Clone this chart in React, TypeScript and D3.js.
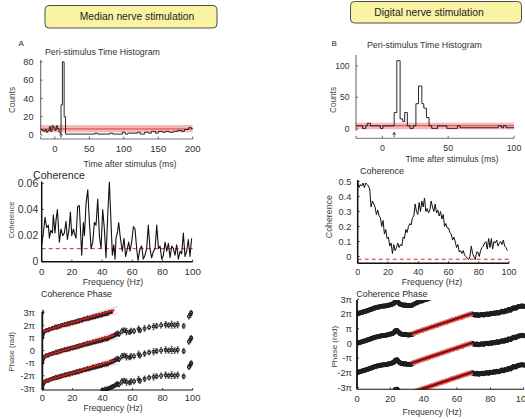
import * as d3 from "d3";
import React from "react";

// ---------- data ----------

// Peri-stimulus time histograms: left edge of each step (ms) and its count
const psthAEdges = [-20, -18, -16, -14, -12, -10, -8, -6, -4, -2, 0, 2, 4, 6, 9, 11, 13.5, 15.5, 58, 62, 80, 84, 98, 102, 106, 120, 124, 130, 136, 140, 146, 150, 156, 160, 166, 172, 178, 184, 188, 194, 198];
const psthACounts = [6, 5, 4, 6, 3, 5, 9, 4, 10, 8, 5, 10, 7, 3, 33, 80, 20, 1, 2, 1, 2, 1, 3, 1, 2, 3, 1, 3, 2, 4, 2, 4, 3, 4, 3, 4, 5, 4, 6, 8, 7];
const psthAEnd = 200;
const psthAMean = 6.6;
const psthABand = [2.9, 10.9];

const psthBEdges = [-20, -15, -12.5, -11.5, -9, -1.5, 0.5, 9, 11, 13.5, 15.5, 17, 19, 21, 23.5, 25.5, 27.5, 30, 31.5, 33.5, 35.5, 37.5, 42, 49, 57, 59, 88, 90.5, 92, 94];
const psthBCounts = [5, 1, 5, 9, 5, 1, 5, 26, 108, 16, 12, 26, 5, 1, 5, 40, 68, 40, 33, 18, 5, 1, 5, 1, 5, 2, 5, 2, 5, 2];
const psthBEnd = 100;
const psthBMean = 5.2;
const psthBBand = [-0.5, 10];

const stimMarkA = 9;
const stimMarkB = 9;

// Coherence, median nerve
const cohAFreq = [0, 1.1, 2.2, 3.3, 4.4, 5.1, 6.0, 7.1, 7.7, 8.8, 9.5, 10.4, 11.7, 12.8, 13.9, 15.0, 16.1, 17.0, 18.1, 19.0, 19.9, 21.0, 21.6, 22.7, 23.8, 24.9, 26.5, 27.6, 28.3, 29.4, 30.5, 31.6, 32.7, 33.8, 34.9, 36.0, 37.1, 38.2, 39.3, 40.4, 41.5, 42.6, 43.7, 44.8, 45.9, 46.8, 47.7, 48.6, 49.2, 50.1, 51.0, 51.9, 52.5, 53.4, 54.5, 55.6, 56.7, 57.6, 58.5, 59.6, 60.7, 61.8, 62.9, 63.8, 65.1, 66.2, 67.3, 68.4, 69.5, 70.6, 71.7, 72.8, 74.0, 75.1, 76.2, 77.3, 78.4, 79.5, 80.6, 81.7, 82.8, 83.9, 85.0, 86.1, 87.2, 88.3, 89.4, 90.5, 91.6, 92.7, 93.8, 94.9, 96.0, 97.1, 98.2, 99.3];
const cohAVal = [0.013, 0.022, 0.034, 0.026, 0.028, 0.018, 0.024, 0.022, 0.036, 0.022, 0.032, 0.040, 0.015, 0.025, 0.020, 0.022, 0.031, 0.017, 0.025, 0.038, 0.020, 0.025, 0.022, 0.018, 0.042, 0.043, 0.005, 0.030, 0.020, 0.045, 0.055, 0.030, 0.010, 0.015, 0.030, 0.028, 0.048, 0.020, 0.010, 0.040, 0.025, 0.003, 0.035, 0.061, 0.030, 0.005, 0.013, 0.002, 0.018, 0.022, 0.030, 0.020, 0.015, 0.008, 0.018, 0.004, 0.010, 0.015, 0.008, 0.015, 0.027, 0.025, 0.010, 0.001, 0.010, 0.012, 0.002, 0.005, 0.010, 0.028, 0.010, 0.003, 0.008, 0.010, 0.028, 0.010, 0.012, 0.002, 0.005, 0.015, 0.008, 0.014, 0.003, 0.012, 0.010, 0.005, 0.013, 0.002, 0.008, 0.006, 0.022, 0.004, 0.008, 0.017, 0.004, 0.018];
const cohAThreshold = 0.01;

// Coherence, digital nerve (0.883 Hz resolution)
const cohBStep = 0.883;
const cohBVal = [0.50, 0.46, 0.48, 0.47, 0.49, 0.46, 0.49, 0.48, 0.47, 0.45, 0.33, 0.37, 0.35, 0.33, 0.28, 0.31, 0.27, 0.26, 0.20, 0.24, 0.15, 0.18, 0.12, 0.13, 0.07, 0.09, 0.02, 0.08, 0.04, 0.06, 0.09, 0.06, 0.08, 0.07, 0.13, 0.12, 0.18, 0.16, 0.20, 0.22, 0.21, 0.26, 0.27, 0.35, 0.30, 0.28, 0.36, 0.30, 0.37, 0.33, 0.39, 0.30, 0.32, 0.29, 0.31, 0.37, 0.33, 0.30, 0.35, 0.29, 0.31, 0.27, 0.30, 0.25, 0.28, 0.20, 0.22, 0.19, 0.19, 0.16, 0.15, 0.11, 0.13, 0.10, 0.06, 0.08, 0.03, 0.04, 0.02, 0.04, 0.01, 0.00, -0.01, -0.02, 0.00, 0.07, 0.02, 0.00, -0.02, 0.03, 0.03, 0.00, 0.04, 0.06, 0.07, 0.09, 0.10, 0.05, 0.12, 0.06, 0.12, 0.05, 0.10, 0.09, 0.11, 0.07, 0.09, 0.10, 0.08, 0.11, 0.07, 0.06, 0.04];
const cohBThreshold = -0.018;

// Coherence phase, median nerve (phase in units of pi, error half-width in pi)
const phAFreq = [0, 0.5, 1, 2, 3, 4, 5, 6, 7, 8, 9, 10, 11, 12, 13, 14, 15, 16, 17, 18, 19, 20, 21, 22, 23, 24, 25, 26, 27, 28, 29, 30, 31, 32, 33, 34, 35, 36, 37, 38, 39, 40, 41, 42, 43, 44, 45, 46, 47, 48, 49, 50, 51, 53, 54.5, 56, 58, 59, 61, 64, 65, 68, 71, 74, 76, 79, 82, 84, 86, 88, 90, 94, 97.5, 98.5, 99];
const phAPhase = [-0.95, -0.7, -0.55, -0.45, -0.38, -0.4, -0.3, -0.28, -0.22, -0.2, -0.12, -0.18, -0.05, -0.08, 0.02, 0.0, 0.08, 0.05, 0.15, 0.12, 0.22, 0.18, 0.28, 0.25, 0.35, 0.3, 0.42, 0.38, 0.45, 0.5, 0.48, 0.58, 0.52, 0.62, 0.6, 0.7, 0.65, 0.75, 0.72, 0.82, 0.78, 0.88, 0.85, 0.95, 0.9, 1.0, 1.05, 1.1, 1.15, 1.2, 1.3, 1.35, 1.3, 1.55, 1.6, 1.5, 1.45, 1.55, 1.55, 1.7, 1.6, 1.75, 1.85, 1.9, 1.95, 2.0, 2.05, 2.0, 2.05, 2.0, 2.05, 1.95, 2.7, 2.85, 3.0];
const phAErr = [0.2, 0.15, 0.12, 0.1, 0.12, 0.1, 0.12, 0.1, 0.14, 0.1, 0.15, 0.12, 0.1, 0.14, 0.12, 0.1, 0.15, 0.12, 0.1, 0.16, 0.12, 0.14, 0.1, 0.15, 0.12, 0.16, 0.1, 0.14, 0.12, 0.15, 0.1, 0.16, 0.12, 0.14, 0.1, 0.15, 0.12, 0.16, 0.1, 0.14, 0.12, 0.15, 0.1, 0.16, 0.12, 0.14, 0.12, 0.16, 0.15, 0.14, 0.18, 0.2, 0.18, 0.22, 0.2, 0.25, 0.18, 0.22, 0.2, 0.25, 0.2, 0.22, 0.18, 0.25, 0.2, 0.22, 0.25, 0.2, 0.28, 0.22, 0.25, 0.2, 0.2, 0.22, 0.18];
const phAFitFreq = [0, 48];
const phAFitPhase = [-0.5, 1.23];
const phACiFreq = [0, 50];
const phACiHigh = [-0.37, 1.48];
const phACiLow = [-0.62, 0.95];
const phAFitOffsets = [2, 0, -2];

// Coherence phase, digital nerve (phase in units of pi)
const phBFreq = [0, 1, 2, 3, 4, 5, 6, 7, 8, 9, 10, 11, 12, 13, 14, 15, 16, 17, 18, 19, 20, 21, 22, 23, 24, 25, 26, 27, 28, 29, 30, 31, 32, 33, 36, 39, 42, 45, 48, 51, 54, 57, 60, 63, 66, 69, 70, 71, 72, 73, 74, 75, 76, 77, 78, 79, 80, 81, 82, 83, 84, 85, 86, 87, 88, 89, 90, 91, 92, 93, 94, 95, 96, 97, 98, 99, 100];
const phBPhase = [0, 0.04, 0.08, 0.11, 0.15, 0.18, 0.22, 0.26, 0.3, 0.34, 0.38, 0.42, 0.45, 0.47, 0.5, 0.52, 0.54, 0.55, 0.57, 0.6, 0.63, 0.66, 0.72, 0.85, 0.88, 0.75, 0.66, 0.62, 0.6, 0.61, 0.58, 0.57, 0.58, 0.6, 0.77, 0.89, 1.0, 1.12, 1.23, 1.35, 1.46, 1.58, 1.69, 1.8, 1.92, 2.0, 1.95, 1.92, 1.96, 1.9, 1.94, 1.97, 1.93, 1.98, 2.0, 1.97, 2.03, 2.01, 2.06, 2.04, 2.1, 2.07, 2.12, 2.18, 2.14, 2.22, 2.2, 2.3, 2.26, 2.35, 2.42, 2.38, 2.46, 2.5, 2.52, 2.55, 2.52];
const phBFitFreq = [33, 69];
const phBFitPhase = [0.66, 2.03];
const phBFitOffsets = [0, -2, -4];

const wrapOffsets = [-4, -2, 0, 2, 4];
const phaseTicks = [-3, -2, -1, 0, 1, 2, 3];

// ---------- drawing ----------

const FONT = "'Liberation Sans', Arial, Helvetica, sans-serif";
const INK = "#2a2a2a";

type Lin = d3.ScaleLinear<number, number>;

const piLabel = (k: number) =>
  k === 0 ? "0" : k === 1 ? "\u03c0" : k === -1 ? "-\u03c0" : `${k}\u03c0`;

function stairs(edges: number[], counts: number[], end: number, x: Lin, y: Lin) {
  let d = "";
  edges.forEach((e, i) => {
    const next = i + 1 < edges.length ? edges[i + 1] : end;
    d += (i === 0 ? `M${x(e)},${y(counts[i])}` : `V${y(counts[i])}`) + `H${x(next)}`;
  });
  return d;
}

function TitleBox({ x, y, w, h, tx, label }: any) {
  return (
    <g>
      <rect x={x} y={y} width={w} height={h} rx={4} fill="#fbf3a4" stroke="#3a3a3a" strokeWidth={0.9} />
      <text x={tx} y={y + h / 2} dy="0.36em" textAnchor="middle" fontSize={10.3} fill="#222">
        {label}
      </text>
    </g>
  );
}

function YLabel({ x, y, size, children }: any) {
  return (
    <text transform={`translate(${x},${y}) rotate(-90)`} dy="0.35em" textAnchor="middle" fontSize={size} fill="#444">
      {children}
    </text>
  );
}

function Psth({ c }: any) {
  const x = d3.scaleLinear().domain(c.xDomain).range(c.xRange);
  const y = d3.scaleLinear().domain(c.yDomain).range(c.yRange);
  const [x0, x1] = c.xRange;
  const ax = c.xAxisY;
  const mx = x(c.stim);
  return (
    <g>
      <text x={c.letter[0]} y={c.letter[1]} dy="0.35em" fontSize={8} fill={INK}>{c.letterText}</text>
      <text x={c.title[0]} y={c.title[1]} dy="0.35em" fontSize={8.8} fill="#333">Peri-stimulus Time Histogram</text>
      <rect x={x0} y={y(c.band[1])} width={x1 - x0} height={y(c.band[0]) - y(c.band[1])} fill="#f6b9b9" />
      <line x1={x0} x2={x1} y1={y(c.mean)} y2={y(c.mean)} stroke="#e23a3c" strokeWidth={1} />
      <path d={stairs(c.edges, c.counts, c.end, x, y)} fill="none" stroke="#111" strokeWidth={0.9} />
      <line x1={x0} x2={x0} y1={c.yRange[0]} y2={c.yRange[1]} stroke="#333" strokeWidth={0.8} />
      {c.yTicks.map((t: number) => (
        <g key={t}>
          <line x1={x0} x2={x0 + 2} y1={y(t)} y2={y(t)} stroke="#333" strokeWidth={0.7} />
          <text x={c.yTickRight} y={y(t)} dy="0.35em" textAnchor="end" fontSize={c.yTickSize} fill="#333">{t}</text>
        </g>
      ))}
      <line x1={x0} x2={x1} y1={ax} y2={ax} stroke="#555" strokeWidth={0.8} />
      {[c.xDomain[0], ...c.xTicks].map((t: number) => (
        <line key={t} x1={x(t)} x2={x(t)} y1={ax} y2={ax - 2.5} stroke="#444" strokeWidth={0.8} />
      ))}
      {c.xTicks.map((t: number) => (
        <text key={t} x={x(t)} y={c.xTickY} dy="0.35em" textAnchor="middle" fontSize={c.xTickSize} fill="#333">{t}</text>
      ))}
      <path d={`M${mx},${ax - 1}V${ax - 5.5}M${mx - 1.3},${ax - 3.5}L${mx},${ax - 6}L${mx + 1.3},${ax - 3.5}`} fill="none" stroke="#222" strokeWidth={0.8} />
      <YLabel x={c.yLabel[0]} y={c.yLabel[1]} size={8.2}>Counts</YLabel>
      <text x={c.xLabel[0]} y={c.xLabel[1]} dy="0.35em" textAnchor="middle" fontSize={8.7} fill="#333">Time after stimulus (ms)</text>
    </g>
  );
}

function Coherence({ c }: any) {
  const x = d3.scaleLinear().domain([0, 100]).range(c.xRange);
  const y = d3.scaleLinear().domain(c.yDomain).range(c.yRange);
  const [x0, x1] = c.xRange;
  const yb = c.yRange[0];
  const pts = c.freq.map((f: number, i: number) => [f, c.val[i]] as [number, number]);
  const line = d3.line<[number, number]>().x((d) => x(d[0])).y((d) => y(d[1]));
  return (
    <g>
      <text x={c.title[0]} y={c.title[1]} dy="0.35em" fontSize={c.titleSize} fill={INK}>Coherence</text>
      <line x1={x0} x2={x1} y1={y(c.threshold)} y2={y(c.threshold)} stroke="#e8262c" strokeWidth={1} strokeDasharray="4,3" />
      <path d={line(pts) || ""} fill="none" stroke="#111" strokeWidth={c.lineWidth} strokeLinejoin="round" />
      <line x1={x0} x2={x0} y1={yb} y2={c.yRange[1]} stroke="#111" strokeWidth={1.5} />
      <line x1={x0} x2={x1} y1={yb} y2={yb} stroke="#111" strokeWidth={1.4} />
      {c.yTicks.map((t: number) => (
        <g key={t}>
          <line x1={x0} x2={x0 + 2} y1={y(t)} y2={y(t)} stroke="#111" strokeWidth={0.8} />
          <text x={c.yTickRight} y={y(t)} dy="0.35em" textAnchor="end" fontSize={c.yTickSize} fill="#333">
            {t === 0 ? "0" : d3.format(c.fmt)(t)}
          </text>
        </g>
      ))}
      {[0, 20, 40, 60, 80, 100].map((t) => (
        <g key={t}>
          <line x1={x(t)} x2={x(t)} y1={yb} y2={yb - 2} stroke="#111" strokeWidth={0.8} />
          <text x={x(t)} y={c.xTickY} dy="0.35em" textAnchor="middle" fontSize={c.xTickSize} fill="#333">{t}</text>
        </g>
      ))}
      <YLabel x={c.yLabel[0]} y={c.yLabel[1]} size={c.yLabelSize}>Coherence</YLabel>
      <text x={c.xLabel[0]} y={c.xLabel[1]} dy="0.35em" textAnchor="middle" fontSize={8.8} fill="#333">Frequency (Hz)</text>
    </g>
  );
}

function PhaseAxes({ c, x, y }: any) {
  const [x0, x1] = c.xRange;
  const yb = c.yRange[0];
  return (
    <g>
      <line x1={x0} x2={x0} y1={yb} y2={c.yRange[1]} stroke="#111" strokeWidth={1.8} />
      <line x1={x0} x2={x1} y1={yb} y2={yb} stroke="#111" strokeWidth={1.1} />
      {phaseTicks.map((k) => (
        <g key={k}>
          <line x1={x0} x2={x0 + 2} y1={y(k)} y2={y(k)} stroke="#111" strokeWidth={0.8} />
          <text x={c.yTickRight} y={y(k)} dy="0.35em" textAnchor="end" fontSize={9.3} fill="#333">{piLabel(k)}</text>
        </g>
      ))}
      {[0, 20, 40, 60, 80, 100].map((t) => (
        <g key={t}>
          <line x1={x(t)} x2={x(t)} y1={yb} y2={yb - 2} stroke="#111" strokeWidth={0.8} />
          <text x={x(t)} y={c.xTickY} dy="0.35em" textAnchor="middle" fontSize={9.4} fill="#333">{t}</text>
        </g>
      ))}
      <text x={c.title[0]} y={c.title[1]} dy="0.35em" fontSize={8.9} fill={INK}>Coherence Phase</text>
      <YLabel x={c.yLabel[0]} y={c.yLabel[1]} size={c.yLabelSize}>Phase (rad)</YLabel>
      <text x={c.xLabel[0]} y={c.xLabel[1]} dy="0.35em" textAnchor="middle" fontSize={8.6} fill="#333">Frequency (Hz)</text>
    </g>
  );
}

function PhaseA({ c }: any) {
  const x = d3.scaleLinear().domain([0, 100]).range(c.xRange);
  const y = d3.scaleLinear().domain(c.yDomain).range(c.yRange);
  const [lo, hi] = c.yDomain;
  const seg = (fs: number[], ps: number[], off: number) =>
    `M${x(fs[0])},${y(ps[0] + off)}L${x(fs[1])},${y(ps[1] + off)}`;
  return (
    <g>
      <clipPath id="clipPhA">
        <rect x={c.xRange[0]} y={c.yRange[1] - 2} width={c.xRange[1] - c.xRange[0] + 4} height={c.yRange[0] - c.yRange[1] + 3} />
      </clipPath>
      <g clipPath="url(#clipPhA)">
        {wrapOffsets.map((off) =>
          phAFreq.map((f, i) => {
            const p = phAPhase[i] + off;
            if (p < lo - 0.05 || p > hi + 0.05) return null;
            const e = phAErr[i];
            const px = x(f);
            return (
              <g key={`${off}-${i}`} stroke="#1c1c1c" fill="none">
                <path d={`M${px},${y(p - e)}V${y(p + e)}M${px - 1},${y(p - e)}H${px + 1}M${px - 1},${y(p + e)}H${px + 1}`} strokeWidth={0.7} />
                <circle cx={px} cy={y(p)} r={1.5} strokeWidth={1.1} />
              </g>
            );
          })
        )}
      </g>
      {phAFitOffsets.map((off) => (
        <g key={off} fill="none">
          <path d={seg(phACiFreq, phACiHigh, off)} stroke="#ff4a4a" strokeWidth={0.8} strokeDasharray="1,1.2" />
          <path d={seg(phACiFreq, phACiLow, off)} stroke="#ff4a4a" strokeWidth={0.8} strokeDasharray="1,1.2" />
          <path d={seg(phAFitFreq, phAFitPhase, off)} stroke="#e01e1e" strokeWidth={1.4} />
        </g>
      ))}
      <PhaseAxes c={c} x={x} y={y} />
    </g>
  );
}

function PhaseB({ c }: any) {
  const x = d3.scaleLinear().domain([0, 100]).range(c.xRange);
  const y = d3.scaleLinear().domain(c.yDomain).range(c.yRange);
  const pts = phBFreq.map((f, i) => [f, phBPhase[i]] as [number, number]);
  const line = (off: number) =>
    d3.line<[number, number]>().x((d) => x(d[0])).y((d) => y(d[1] + off))(pts) || "";
  const fit = (off: number) =>
    `M${x(phBFitFreq[0])},${y(phBFitPhase[0] + off)}L${x(phBFitFreq[1])},${y(phBFitPhase[1] + off)}`;
  return (
    <g>
      <clipPath id="clipPhB">
        <rect x={c.xRange[0]} y={c.yRange[1]} width={c.xRange[1] - c.xRange[0] + 3} height={c.yRange[0] - c.yRange[1]} />
      </clipPath>
      <g clipPath="url(#clipPhB)">
        {wrapOffsets.map((off) => (
          <g key={off}>
            <path d={line(off)} fill="none" stroke="#1d1d1d" strokeWidth={4.6} strokeLinejoin="round" strokeLinecap="round" />
            {pts.map((d, i) => (
              <circle key={i} cx={x(d[0])} cy={y(d[1] + off)} r={2.5} fill="#1d1d1d" />
            ))}
          </g>
        ))}
        {phBFitOffsets.map((off) => (
          <g key={off} fill="none">
            <path d={fit(off)} stroke="#f5a3a3" strokeWidth={5.2} />
            <path d={fit(off)} stroke="#dd2222" strokeWidth={3.6} />
            <path d={fit(off)} stroke="#2b0b0b" strokeWidth={1} />
          </g>
        ))}
      </g>
      <PhaseAxes c={c} x={x} y={y} />
    </g>
  );
}

// ---------- layout ----------

const psthA = {
  edges: psthAEdges, counts: psthACounts, end: psthAEnd, mean: psthAMean, band: psthABand, stim: stimMarkA,
  xDomain: [-20.5, 200], xRange: [40.7, 192.7], yDomain: [0, 82], yRange: [135, 60], xAxisY: 139,
  yTicks: [0, 20, 40, 60, 80], xTicks: [0, 50, 100, 150, 200], yTickRight: 33.5, yTickSize: 9.2,
  xTickY: 148.3, xTickSize: 9.6, letter: [18.5, 42.7], letterText: "A", title: [45, 51.7],
  yLabel: [11.7, 100], xLabel: [130, 164],
};
const psthB = {
  edges: psthBEdges, counts: psthBCounts, end: psthBEnd, mean: psthBMean, band: psthBBand, stim: stimMarkB,
  xDomain: [-20, 100], xRange: [356, 514], yDomain: [-3, 117], yRange: [130.9, 55], xAxisY: 138.3,
  yTicks: [0, 50, 100], xTicks: [0, 50, 100], yTickRight: 349.5, yTickSize: 8.6,
  xTickY: 148.3, xTickSize: 8.8, letter: [331.5, 42.7], letterText: "B", title: [367, 45.3],
  yLabel: [333, 100], xLabel: [452, 159.3],
};
const cohA = {
  freq: cohAFreq, val: cohAVal, threshold: cohAThreshold, xRange: [41.7, 192.7], yDomain: [0, 0.0615],
  yRange: [261.7, 181.4], yTicks: [0, 0.02, 0.04, 0.06], fmt: ".2f", yTickRight: 38.3, yTickSize: 10.5,
  xTickY: 271.5, xTickSize: 9.8, title: [33, 175.5], titleSize: 10.6, yLabel: [11.7, 220], yLabelSize: 7.5,
  xLabel: [113, 281.5], lineWidth: 1.1,
};
const cohB = {
  freq: cohBVal.map((_, i) => i * cohBStep), val: cohBVal, threshold: cohBThreshold, xRange: [357.7, 509],
  yDomain: [-0.045, 0.51], yRange: [263.3, 180], yTicks: [0, 0.1, 0.2, 0.3, 0.4, 0.5], fmt: ".1f",
  yTickRight: 351.3, yTickSize: 9.2, xTickY: 271.5, xTickSize: 9, title: [360, 171], titleSize: 9,
  yLabel: [328.7, 216.7], yLabelSize: 8.8, xLabel: [432, 281.5], lineWidth: 1,
};
const phA = {
  xRange: [42.3, 192.7], yDomain: [-3.13, 3.07], yRange: [390, 311.8], yTickRight: 35,
  xTickY: 398, title: [41, 294.3], yLabel: [11.7, 351.7], yLabelSize: 7.5, xLabel: [113, 408],
};
const phB = {
  xRange: [357, 523.7], yDomain: [-3.13, 2.95], yRange: [389.3, 300], yTickRight: 352,
  xTickY: 398.3, title: [356.3, 294.3], yLabel: [333.7, 346.7], yLabelSize: 8, xLabel: [432, 411.7],
};

export default function App() {
  return (
    <svg
      width={525}
      height={419}
      viewBox="0 0 525 419"
      style={{ position: "absolute", left: 0, top: 0, background: "#fff" }}
      fontFamily={FONT}
    >
      <rect x={0} y={0} width={525} height={419} fill="#fff" />
      <TitleBox x={45} y={5.5} w={172} h={22.5} tx={137} label="Median nerve stimulation" />
      <TitleBox x={350.5} y={1.5} w={171} h={21.5} tx={429} label="Digital nerve stimulation" />
      <Psth c={psthA} />
      <Psth c={psthB} />
      <Coherence c={cohA} />
      <Coherence c={cohB} />
      <PhaseA c={phA} />
      <PhaseB c={phB} />
    </svg>
  );
}
